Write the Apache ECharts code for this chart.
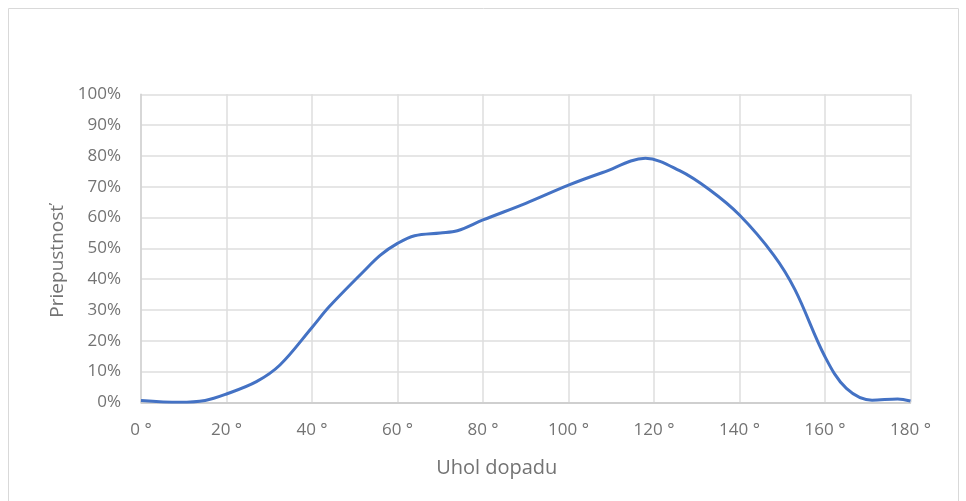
<!DOCTYPE html>
<html>
<head>
<meta charset="utf-8">
<script src="https://cdn.jsdelivr.net/npm/echarts@6/dist/echarts.min.js"></script>
<style>
  html, body { margin: 0; padding: 0; background: #fff; }
  #chart { width: 966px; height: 501px; }
</style>
</head>
<body>
<div id="chart"></div>
<script>
// angle of incidence (deg) and transmittance (%)
const angles = [0, 9, 15, 20, 27, 32.5, 40, 44, 52, 56, 60, 64, 70, 74, 80, 90, 100, 108, 118, 126, 133, 140, 148, 153, 160, 165, 171, 177, 180]
const transmit = [0.6, 0.0, 0.6, 2.7, 6.7, 12.1, 24.3, 31, 42.4, 47.8, 51.6, 54.1, 55.0, 55.7, 59.2, 64.6, 70.5, 74.6, 79.2, 75.2, 69, 60.8, 47.8, 36.5, 14.8, 4.5, 0.7, 1.1, 0.4]
const xTicks = [0, 20, 40, 60, 80, 100, 120, 140, 160, 180]
const yTicks = [0, 10, 20, 30, 40, 50, 60, 70, 80, 90, 100]

const gray = '#737373'
const font = 'Open Sans, Liberation Sans, sans-serif'

const chart = echarts.init(document.getElementById('chart'))

chart.setOption({
  animation: false,
  graphic: [{
    type: 'rect',
    shape: { x: 8.5, y: 8.5, width: 950, height: 500 },
    style: { fill: 'none', stroke: '#d9d9d9', lineWidth: 1 }
  }],
  grid: {
    left: 141,
    right: 55.5,
    top: 94.3,
    bottom: 98.7
  },
  xAxis: {
    type: 'value',
    min: xTicks[0],
    max: xTicks[xTicks.length - 1],
    interval: 20,
    name: 'Uhol dopadu',
    nameLocation: 'middle',
    nameGap: 56,
    nameTextStyle: { color: gray, fontSize: 20, fontFamily: font, padding: [0, 58, 0, 0] },
    axisLine: { show: true, lineStyle: { color: '#c8c8c8', width: 1.5 } },
    axisTick: { show: false },
    axisLabel: {
      color: gray, fontSize: 17, fontFamily: font, margin: 19,
      formatter: v => v + ' °'
    },
    splitLine: { show: true, lineStyle: { color: '#dedede', width: 1.5 } }
  },
  yAxis: {
    type: 'value',
    min: yTicks[0],
    max: yTicks[yTicks.length - 1],
    interval: 10,
    name: 'Priepustnosť',
    nameLocation: 'middle',
    nameGap: 73,
    nameRotate: 90,
    nameTextStyle: { color: gray, fontSize: 19, fontFamily: font, padding: [0, 26, 0, 0] },
    axisLine: { show: true, lineStyle: { color: '#d2d2d2', width: 1.5 } },
    axisTick: { show: false },
    axisLabel: {
      color: gray, fontSize: 17, fontFamily: font, margin: 20,
      formatter: v => v + '%'
    },
    splitLine: { show: true, lineStyle: { color: '#dedede', width: 1.5 } }
  },
  series: [{
    type: 'line',
    data: angles.map((a, i) => [a, transmit[i]]),
    smooth: 0.35,
    showSymbol: false,
    lineStyle: { color: '#4472c4', width: 3 }
  }]
})
</script>
</body>
</html>
